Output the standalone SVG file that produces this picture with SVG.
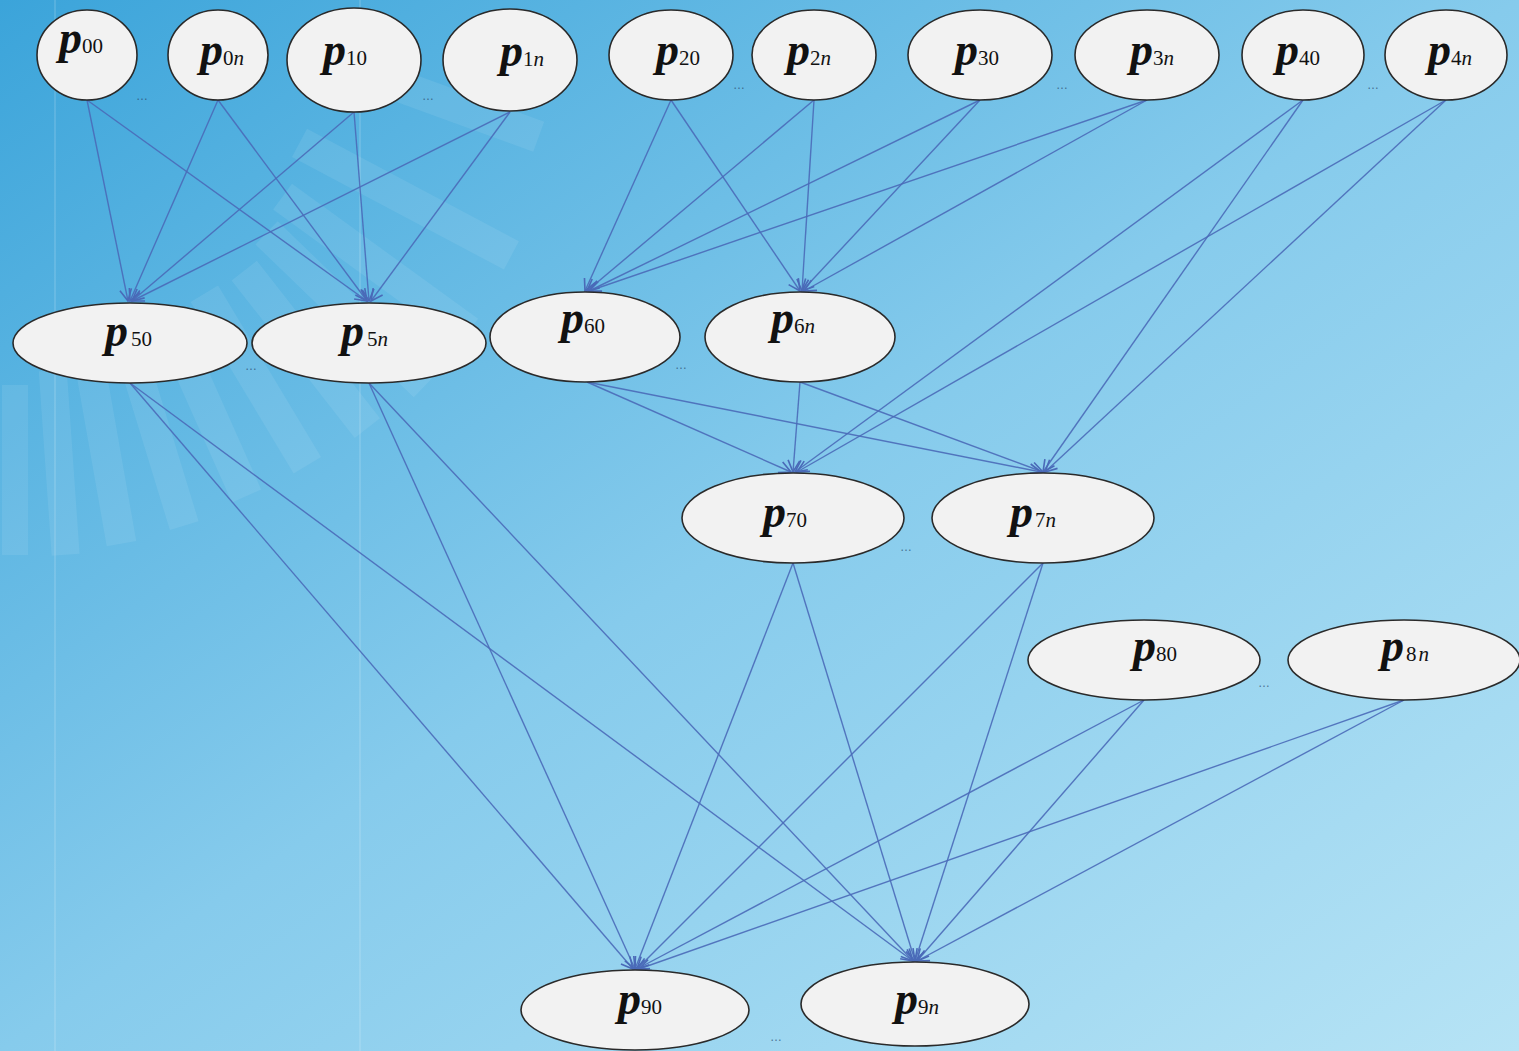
<svg xmlns="http://www.w3.org/2000/svg" width="1519" height="1051" viewBox="0 0 1519 1051">
<defs>
<linearGradient id="bg" x1="0" y1="0" x2="1" y2="1">
<stop offset="0" stop-color="#3ba4da"/>
<stop offset="0.5" stop-color="#86cbec"/>
<stop offset="1" stop-color="#b6e3f5"/>
</linearGradient>
<marker id="arr" viewBox="0 0 12 12" refX="11" refY="6" markerWidth="14" markerHeight="14" markerUnits="userSpaceOnUse" orient="auto">
<path d="M1,1 L11,6 L1,11" fill="none" stroke="#4a6ab8" stroke-width="1.4"/>
</marker>
<style>
.n ellipse{fill:#f2f2f2;stroke:#2a2a2a;stroke-width:1.6}
.p{font-family:"Liberation Serif","Times New Roman",serif;font-weight:bold;font-style:italic;font-size:46px;fill:#111}
.s{font-family:"Liberation Serif","Times New Roman",serif;font-size:21px;font-weight:normal;font-style:normal}
.i{font-style:italic}
.d{font-family:"Liberation Sans",Arial,sans-serif;font-size:12px;fill:#2e4e70;opacity:0.75}
#edges line{stroke:#4a6ab8;stroke-width:1.4;stroke-opacity:0.9;marker-end:url(#arr)}
.st{fill:#ffffff;opacity:0.08}
</style>
</defs>
<rect width="1519" height="1051" fill="url(#bg)"/>
<g id="decor">
<line x1="55" y1="0" x2="55" y2="1051" stroke="#ffffff" stroke-opacity="0.25"/>
<line x1="360" y1="0" x2="360" y2="1051" stroke="#ffffff" stroke-opacity="0.25"/>
<rect class="st" x="2" y="385" width="26" height="170"/>
<rect class="st" x="45" y="370" width="28" height="185" transform="rotate(-4 60 460)"/>
<rect class="st" x="90" y="355" width="30" height="190" transform="rotate(-10 105 450)"/>
<rect class="st" x="140" y="330" width="30" height="200" transform="rotate(-17 155 430)"/>
<rect class="st" x="190" y="305" width="32" height="200" transform="rotate(-24 205 405)"/>
<rect class="st" x="240" y="280" width="32" height="200" transform="rotate(-31 255 380)"/>
<rect class="st" x="290" y="250" width="32" height="200" transform="rotate(-38 305 350)"/>
<rect class="st" x="330" y="200" width="32" height="220" transform="rotate(-46 345 310)"/>
<rect class="st" x="360" y="150" width="32" height="230" transform="rotate(-54 375 265)"/>
<rect class="st" x="390" y="80" width="32" height="240" transform="rotate(-62 405 200)"/>
<rect class="st" x="420" y="-10" width="32" height="220" transform="rotate(-70 435 100)"/>
</g>
<g id="edges">
<line x1="87" y1="100" x2="128" y2="301"/>
<line x1="87" y1="100" x2="367" y2="301"/>
<line x1="218" y1="100" x2="130" y2="301"/>
<line x1="218" y1="100" x2="367" y2="301"/>
<line x1="354" y1="112" x2="132" y2="301"/>
<line x1="354" y1="112" x2="369" y2="301"/>
<line x1="510" y1="112" x2="132" y2="301"/>
<line x1="510" y1="112" x2="371" y2="301"/>
<line x1="671" y1="100" x2="585" y2="291"/>
<line x1="671" y1="100" x2="800" y2="291"/>
<line x1="814" y1="100" x2="587" y2="291"/>
<line x1="814" y1="100" x2="802" y2="291"/>
<line x1="980" y1="100" x2="589" y2="291"/>
<line x1="980" y1="100" x2="802" y2="291"/>
<line x1="1147" y1="100" x2="589" y2="291"/>
<line x1="1147" y1="100" x2="804" y2="291"/>
<line x1="1303" y1="100" x2="795" y2="472"/>
<line x1="1303" y1="100" x2="1043" y2="472"/>
<line x1="1446" y1="100" x2="797" y2="472"/>
<line x1="1446" y1="100" x2="1045" y2="472"/>
<line x1="587" y1="382" x2="791" y2="472"/>
<line x1="587" y1="382" x2="1041" y2="472"/>
<line x1="800" y1="382" x2="793" y2="472"/>
<line x1="800" y1="382" x2="1043" y2="472"/>
<line x1="130" y1="383" x2="633" y2="969"/>
<line x1="130" y1="383" x2="913" y2="961"/>
<line x1="369" y1="383" x2="635" y2="969"/>
<line x1="369" y1="383" x2="913" y2="961"/>
<line x1="793" y1="563" x2="635" y2="969"/>
<line x1="793" y1="563" x2="915" y2="961"/>
<line x1="1043" y1="563" x2="637" y2="969"/>
<line x1="1043" y1="563" x2="915" y2="961"/>
<line x1="1144" y1="700" x2="637" y2="969"/>
<line x1="1144" y1="700" x2="917" y2="961"/>
<line x1="1404" y1="700" x2="639" y2="969"/>
<line x1="1404" y1="700" x2="917" y2="961"/>
</g>
<g id="p00" class="n"><ellipse cx="87" cy="55" rx="50" ry="45"/><text x="59" y="53" class="p">p<tspan class="s">00</tspan></text></g>
<g id="p0n" class="n"><ellipse cx="218" cy="55" rx="50" ry="45"/><text x="200" y="65" class="p">p<tspan class="s">0<tspan class="i">n</tspan></tspan></text></g>
<g id="p10" class="n"><ellipse cx="354" cy="60" rx="67" ry="52"/><text x="323" y="65" class="p">p<tspan class="s">10</tspan></text></g>
<g id="p1n" class="n"><ellipse cx="510" cy="60" rx="67" ry="51"/><text x="500" y="66" class="p">p<tspan class="s">1<tspan class="i">n</tspan></tspan></text></g>
<g id="p20" class="n"><ellipse cx="671" cy="55" rx="62" ry="45"/><text x="656" y="65" class="p">p<tspan class="s">20</tspan></text></g>
<g id="p2n" class="n"><ellipse cx="814" cy="55" rx="62" ry="45"/><text x="787" y="65" class="p">p<tspan class="s">2<tspan class="i">n</tspan></tspan></text></g>
<g id="p30" class="n"><ellipse cx="980" cy="55" rx="72" ry="45"/><text x="955" y="65" class="p">p<tspan class="s">30</tspan></text></g>
<g id="p3n" class="n"><ellipse cx="1147" cy="55" rx="72" ry="45"/><text x="1130" y="65" class="p">p<tspan class="s">3<tspan class="i">n</tspan></tspan></text></g>
<g id="p40" class="n"><ellipse cx="1303" cy="55" rx="61" ry="45"/><text x="1276" y="65" class="p">p<tspan class="s">40</tspan></text></g>
<g id="p4n" class="n"><ellipse cx="1446" cy="55" rx="61" ry="45"/><text x="1428" y="65" class="p">p<tspan class="s">4<tspan class="i">n</tspan></tspan></text></g>
<g id="p50" class="n"><ellipse cx="130" cy="343" rx="117" ry="40"/><text x="105" y="346" class="p">p<tspan class="s" dx="3">50</tspan></text></g>
<g id="p5n" class="n"><ellipse cx="369" cy="343" rx="117" ry="40"/><text x="341" y="346" class="p">p<tspan class="s" dx="3">5<tspan class="i">n</tspan></tspan></text></g>
<g id="p60" class="n"><ellipse cx="585" cy="337" rx="95" ry="45"/><text x="561" y="333" class="p">p<tspan class="s">60</tspan></text></g>
<g id="p6n" class="n"><ellipse cx="800" cy="337" rx="95" ry="45"/><text x="771" y="333" class="p">p<tspan class="s">6<tspan class="i">n</tspan></tspan></text></g>
<g id="p70" class="n"><ellipse cx="793" cy="518" rx="111" ry="45"/><text x="763" y="527" class="p">p<tspan class="s">70</tspan></text></g>
<g id="p7n" class="n"><ellipse cx="1043" cy="518" rx="111" ry="45"/><text x="1010" y="527" class="p">p<tspan class="s" dx="2">7<tspan class="i">n</tspan></tspan></text></g>
<g id="p80" class="n"><ellipse cx="1144" cy="660" rx="116" ry="40"/><text x="1133" y="661" class="p">p<tspan class="s">80</tspan></text></g>
<g id="p8n" class="n"><ellipse cx="1404" cy="660" rx="116" ry="40"/><text x="1381" y="661" class="p">p<tspan class="s" dx="2">8<tspan class="i" dx="2">n</tspan></tspan></text></g>
<g id="p90" class="n"><ellipse cx="635" cy="1010" rx="114" ry="40"/><text x="618" y="1014" class="p">p<tspan class="s">90</tspan></text></g>
<g id="p9n" class="n"><ellipse cx="915" cy="1004" rx="114" ry="42"/><text x="895" y="1014" class="p">p<tspan class="s">9<tspan class="i">n</tspan></tspan></text></g>
<g id="dots">
<text class="d" x="136" y="100">…</text>
<text class="d" x="422" y="100">…</text>
<text class="d" x="733" y="89">…</text>
<text class="d" x="1056" y="89">…</text>
<text class="d" x="1367" y="89">…</text>
<text class="d" x="245" y="370">…</text>
<text class="d" x="675" y="369">…</text>
<text class="d" x="900" y="551">…</text>
<text class="d" x="1258" y="687">…</text>
<text class="d" x="770" y="1041">…</text>
</g>
</svg>
